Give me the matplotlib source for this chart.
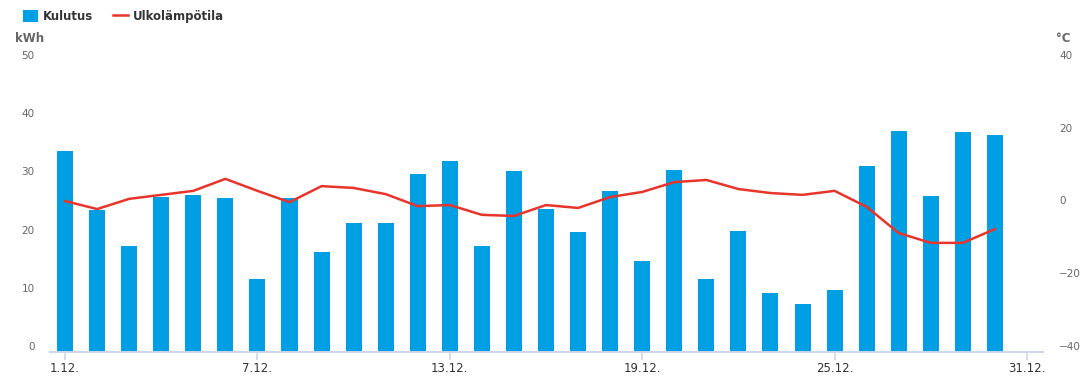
import matplotlib
matplotlib.use('Agg')
import matplotlib.pyplot as plt
from matplotlib.patches import Patch
from matplotlib.lines import Line2D

# Daily data, December
days = list(range(1, 31))
kulutus = [34.5, 24.4, 18.2, 26.6, 27.0, 26.5, 12.5, 26.5, 17.2, 22.2,
           22.2, 30.6, 32.8, 18.2, 31.1, 24.6, 20.6, 27.7, 15.6, 31.3,
           12.5, 20.8, 10.1, 8.2, 10.7, 32.0, 38.0, 26.8, 37.8, 37.3]
ulkolampotila = [1.5, -0.7, 2.1, 3.2, 4.3, 7.6, 4.3, 1.2, 5.6, 5.1,
                 3.4, 0.1, 0.4, -2.3, -2.6, 0.4, -0.4, 2.6, 4.0, 6.7,
                 7.3, 4.8, 3.7, 3.2, 4.3, -0.1, -7.3, -10.0, -10.0, -6.2]
tick_days = [1, 7, 13, 19, 25, 31]
tick_labels = ['1.12.', '7.12.', '13.12.', '19.12.', '25.12.', '31.12.']

BLUE = '#009fe3'
RED = '#e8352b'
AXIS_COL = '#ccd6eb'
LABEL_COL = '#666666'
TEXT_COL = '#333333'

plt.rcParams['font.family'] = ['DejaVu Sans']

fig = plt.figure(figsize=(10.9, 3.87), dpi=100)
ax = fig.add_axes([50 / 1090, 35 / 387, 993 / 1090, 291 / 387])
ax2 = ax.twinx()

ax.bar(days, kulutus, width=0.5, color=BLUE, zorder=2)
ax2.plot(days, ulkolampotila, color=RED, linewidth=1.8, zorder=3)

ax.set_xlim(0.53, 31.5)
ax.set_ylim(0, 50)
ax2.set_ylim(-40, 40)

ax.set_yticks([0, 10, 20, 30, 40, 50])
ax2.set_yticks([-40, -20, 0, 20, 40])
ax.set_xticks(tick_days)
ax.set_xticklabels(tick_labels)

for a in (ax, ax2):
    for s in ('top', 'left', 'right'):
        a.spines[s].set_visible(False)
    a.spines['bottom'].set_color(AXIS_COL)
    a.spines['bottom'].set_linewidth(1.2)

ax.tick_params(axis='x', colors=AXIS_COL, length=6, width=1.2,
               labelcolor=TEXT_COL, labelsize=8.5, pad=1.5)
ax.tick_params(axis='y', length=0, labelcolor=LABEL_COL, labelsize=7.5, pad=11)
ax2.tick_params(axis='y', length=0, labelcolor=LABEL_COL, labelsize=7.5, pad=11.5)
for lbl in ax.get_yticklabels() + ax2.get_yticklabels():
    lbl.set_verticalalignment('bottom')

# axis titles
fig.text(15 / 1090, 1 - 38 / 387, 'kWh', fontsize=8.5, fontweight='bold',
         color=LABEL_COL, ha='left', va='center')
fig.text(1056 / 1090, 1 - 38 / 387, '°C', fontsize=8.5, fontweight='bold',
         color=LABEL_COL, ha='left', va='center')

handles = [Patch(facecolor=BLUE, edgecolor='none', label='Kulutus'),
           Line2D([0], [0], color=RED, linewidth=1.8, label='Ulkolämpötila')]
fig.legend(handles=handles, loc='upper left', bbox_to_anchor=(18 / 1090, 1 - 5 / 387),
           ncol=2, frameon=False, handlelength=1.3, handleheight=1.2,
           handletextpad=0.4, columnspacing=1.7, borderaxespad=0,
           prop={'weight': 'bold', 'size': 8.5})
for t in fig.legends[0].get_texts():
    t.set_color(TEXT_COL)

fig.savefig('out.png', dpi=100)
